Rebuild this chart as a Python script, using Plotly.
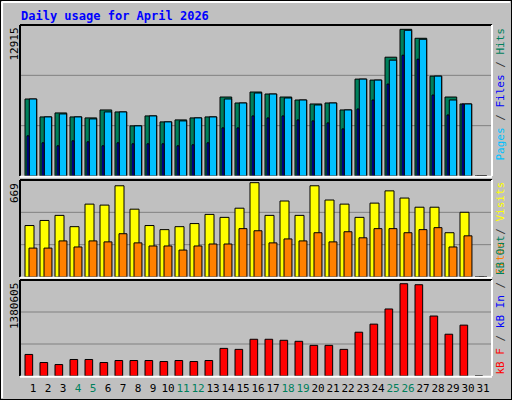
import plotly.graph_objects as go

days = list(range(1, 32))
hits = [6779,5201,5552,5201,5114,5815,5639,4412,5289,4763,4938,5114,5201,6954,6428,7393,7217,6954,6691,6341,6428,5815,8532,8445,10461,12915,12126,8795,6954,6341,0]
files = [6779,5201,5464,5201,5026,5639,5639,4412,5289,4763,4850,5114,5201,6779,6428,7305,7217,6867,6691,6253,6428,5815,8532,8445,10198,12828,12038,8795,6691,6341,0]
pages = [3536,2922,2659,3097,3010,2659,2922,2834,2834,2834,2659,2747,2922,4237,4237,5289,5114,5289,4938,4851,4675,4149,5902,6691,8094,10636,10285,7130,5376,6341,0]
visits = [365,401,437,357,517,510,647,481,365,336,357,379,444,423,488,669,437,539,437,647,546,517,423,524,611,560,495,495,314,459,0]
sites = [205,205,256,213,256,249,307,242,220,220,191,220,234,234,343,328,242,270,256,314,249,321,278,343,343,314,336,350,213,292,0]
kbytes = [322477,201548,171316,246896,246896,201548,231780,231780,231780,216664,231780,216664,231780,413173,398057,549218,549218,534102,518986,458522,458522,398057,655031,775960,1002701,1380605,1365488,896889,624799,760844,0]
weekend = [4,5,11,12,18,19,25,26]
title = "Daily usage for April 2026"

W, H = 512, 400
mono = "DejaVu Sans Mono"
line = dict(color="black", width=1)

fig = go.Figure()
def bar(y, color, offset, width, ax):
    fig.add_trace(go.Bar(x=days, y=y, marker=dict(color=color, line=line),
                         offset=offset, width=width, xaxis="x"+ax, yaxis="y"+ax,
                         hoverinfo="skip", showlegend=False))

bar(hits, "#00805c", -0.533, 0.78, "")
bar(files, "#00c0ff", -0.247, 0.49, "")
bar(pages, "#0000ff", -0.4, 0.13, "")
bar(visits, "#ffff00", -0.533, 0.6, "2")
bar(sites, "#ff8000", -0.267, 0.53, "2")
bar(kbytes, "#ff0000", -0.533, 0.51, "3")

def py(p):
    return 1 - p / H
xd = [20 / W, 492 / W]
xr = [0.1333, 31.6]
panels = [(25, 176, 13295), (180, 277, 688), (280, 376, 1436030)]
lay = dict(width=W, height=H, margin=dict(l=0, r=0, t=0, b=0),
           paper_bgcolor="#c0c0c0", plot_bgcolor="#c0c0c0", barmode="overlay")
ticktext = [f"<span style='color:{'#00805c' if d in weekend else 'black'}'>{d}</span>" for d in days]
shapes = []
for i, (t, b, R) in enumerate(panels):
    s = "" if i == 0 else str(i + 1)
    lay["xaxis" + s] = dict(domain=xd, range=xr, anchor="y" + s, showgrid=False, zeroline=False,
                            showticklabels=(i == 2), tickvals=days, ticktext=ticktext, ticks="",
                            tickangle=0, ticklabelstandoff=4,
                            tickfont=dict(family=mono, size=11, color="black"), fixedrange=True)
    lay["yaxis" + s] = dict(domain=[py(b), py(t)], range=[0, R], anchor="x" + s, showgrid=False,
                            zeroline=False, showticklabels=False, fixedrange=True)
    for f in (1/3, 2/3):
        shapes.append(dict(type="line", xref="x" + s + " domain", yref="y" + s + " domain",
                           x0=0, x1=1, y0=f, y1=f, line=dict(color="#808080", width=1), layer="below"))
    shapes.append(dict(type="line", xref="paper", yref="paper", x0=xd[0], x1=xd[1], y0=py(t), y1=py(t), line=dict(color="black", width=2)))
    shapes.append(dict(type="line", xref="paper", yref="paper", x0=xd[0], x1=xd[0], y0=py(b), y1=py(t), line=dict(color="black", width=2)))
    shapes.append(dict(type="line", xref="paper", yref="paper", x0=xd[1], x1=xd[1], y0=py(b), y1=py(t), line=dict(color="white", width=2)))
    shapes.append(dict(type="line", xref="paper", yref="paper", x0=xd[0], x1=xd[1], y0=py(b) - 0.002, y1=py(b) - 0.002, line=dict(color="white", width=2)))
shapes.append(dict(type="rect", xref="paper", yref="paper", x0=0, x1=1, y0=0, y1=1, line=dict(color="black", width=2)))
shapes.append(dict(type="line", xref="paper", yref="paper", x0=0.004, x1=0.996, y0=0.995, y1=0.995, line=dict(color="white", width=2)))
shapes.append(dict(type="line", xref="paper", yref="paper", x0=0.004, x1=0.004, y0=0.005, y1=0.995, line=dict(color="white", width=2)))
lay["shapes"] = shapes

def c(col, t):
    return f"<span style='color:{col}'>{t}</span>"
ann = [
    dict(text=f"<b>{title}</b>", x=19 / W, y=py(7), xanchor="left", yanchor="top",
         font=dict(family=mono, size=12, color="#0000ff")),
    dict(text=str(max(hits)), x=14 / W, y=py(26), textangle=-90, xanchor="center", yanchor="top",
         font=dict(family=mono, size=11, color="black")),
    dict(text=str(max(visits)), x=14 / W, y=py(181), textangle=-90, xanchor="center", yanchor="top",
         font=dict(family=mono, size=11, color="black")),
    dict(text=str(max(kbytes)), x=14 / W, y=py(281), textangle=-90, xanchor="center", yanchor="top",
         font=dict(family=mono, size=11, color="black")),
    dict(text=c("#00c0ff", "Pages") + " / " + c("#0000ff", "Files") + " / " + c("#00805c", "Hits"),
         x=500 / W, y=py(26), textangle=-90, xanchor="center", yanchor="top",
         font=dict(family=mono, size=11, color="#333")),
    dict(text=c("#ff8000", "Sites") + " / " + c("#ffff00", "Visits"),
         x=500 / W, y=py(180), textangle=-90, xanchor="center", yanchor="top",
         font=dict(family=mono, size=11, color="#333")),
    dict(text=c("#ff0000", "kB F") + " / " + c("#0000ff", "kB In") + " / " + c("#00805c", "kB Out"),
         x=500 / W, y=py(377), textangle=-90, xanchor="center", yanchor="bottom",
         font=dict(family=mono, size=11, color="#333")),
]
for a in ann:
    a.update(xref="paper", yref="paper", showarrow=False)
lay["annotations"] = ann
fig.update_layout(**lay)
fig.write_html("out.html", config={"displayModeBar": False},
               post_script="document.body.style.margin='0';document.body.style.overflow='hidden';")
